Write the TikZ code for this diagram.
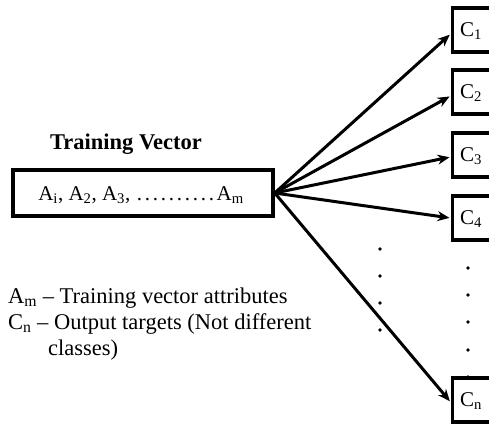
\documentclass[tikz,border=0pt]{standalone}
\usepackage{fontspec}
\setmainfont{Liberation Serif}
\usetikzlibrary{arrows.meta}
\tikzset{
  box/.style={draw, line width=3.4pt, inner sep=0pt},
  target/.style={box, minimum width=62pt, minimum height=44pt, anchor=west},
  link/.style={line width=3pt, -{Stealth[length=12pt,width=10pt]}, shorten >=1pt},
  dot/.style={circle, fill, inner sep=0pt, minimum size=3.6pt},
  lbl/.style={font=\fontsize{22.5}{26}\selectfont, inner sep=0pt},
  clbl/.style={font=\fontsize{21}{24}\selectfont, inner sep=0pt, anchor=west},
  vlbl/.style={font=\fontsize{21}{24}\selectfont, inner sep=0pt}
}
\newcommand{\sbs}[1]{\textsubscript{#1}}
\newcommand{\dotrun}{\hbox to 80pt{\leaders\hbox to 8pt{\hss.\hss}\hfill}}
\begin{document}
\begin{tikzpicture}[x=1pt,y=-1pt]
\path[use as bounding box, clip] (0,0) rectangle (489,425);

% input vector
\node[lbl, font=\fontsize{22.5}{26}\selectfont\bfseries] (title) at (126,144) {Training Vector};
\node[box, minimum width=260pt, minimum height=46pt] (tv) at (143,193) {};
\node[vlbl] (tvtext) at (141,195) {A\sbs{i}, A\sbs{2}, A\sbs{3}, \dotrun\kern1pt A\sbs{m}};

% output targets
\node[target] (c1) at (450.5,30) {};
\node[target] (c2) at (450.5,92) {};
\node[target] (c3) at (450.5,155) {};
\node[target] (c4) at (450.5,218) {};
\node[target] (cn) at (450.5,400) {};
\node[clbl] (l1) at (460,31) {C\sbs{1}};
\node[clbl] (l2) at (460,93) {C\sbs{2}};
\node[clbl] (l3) at (460,156) {C\sbs{3}};
\node[clbl] (l4) at (460,219) {C\sbs{4}};
\node[clbl] (ln) at (460,401) {C\sbs{n}};

% connectors
\draw[link] (tv.east) -- ([yshift=-4pt]c1.west);
\draw[link] (tv.east) -- ([yshift=-4pt]c2.west);
\draw[link] (tv.east) -- ([yshift=-2pt]c3.west);
\draw[link] (tv.east) -- (c4.west);
\draw[link] (tv.east) -- ([yshift=-2pt]cn.west);

% ellipsis dots
\foreach \y [count=\i] in {249,276,303,330}
  \node[dot] (da\i) at (380,\y) {};
\foreach \y [count=\i] in {268,295,322,350,377}
  \node[dot] (db\i) at (468,\y) {};

% legend
\node[lbl, anchor=west] (leg1) at (8,298) {A\sbs{m} – Training vector attributes};
\node[lbl, anchor=west] (leg2) at (8,324) {C\sbs{n} – Output targets (Not different};
\node[lbl, anchor=west] (leg3) at (48,350) {classes)};
\end{tikzpicture}
\end{document}
